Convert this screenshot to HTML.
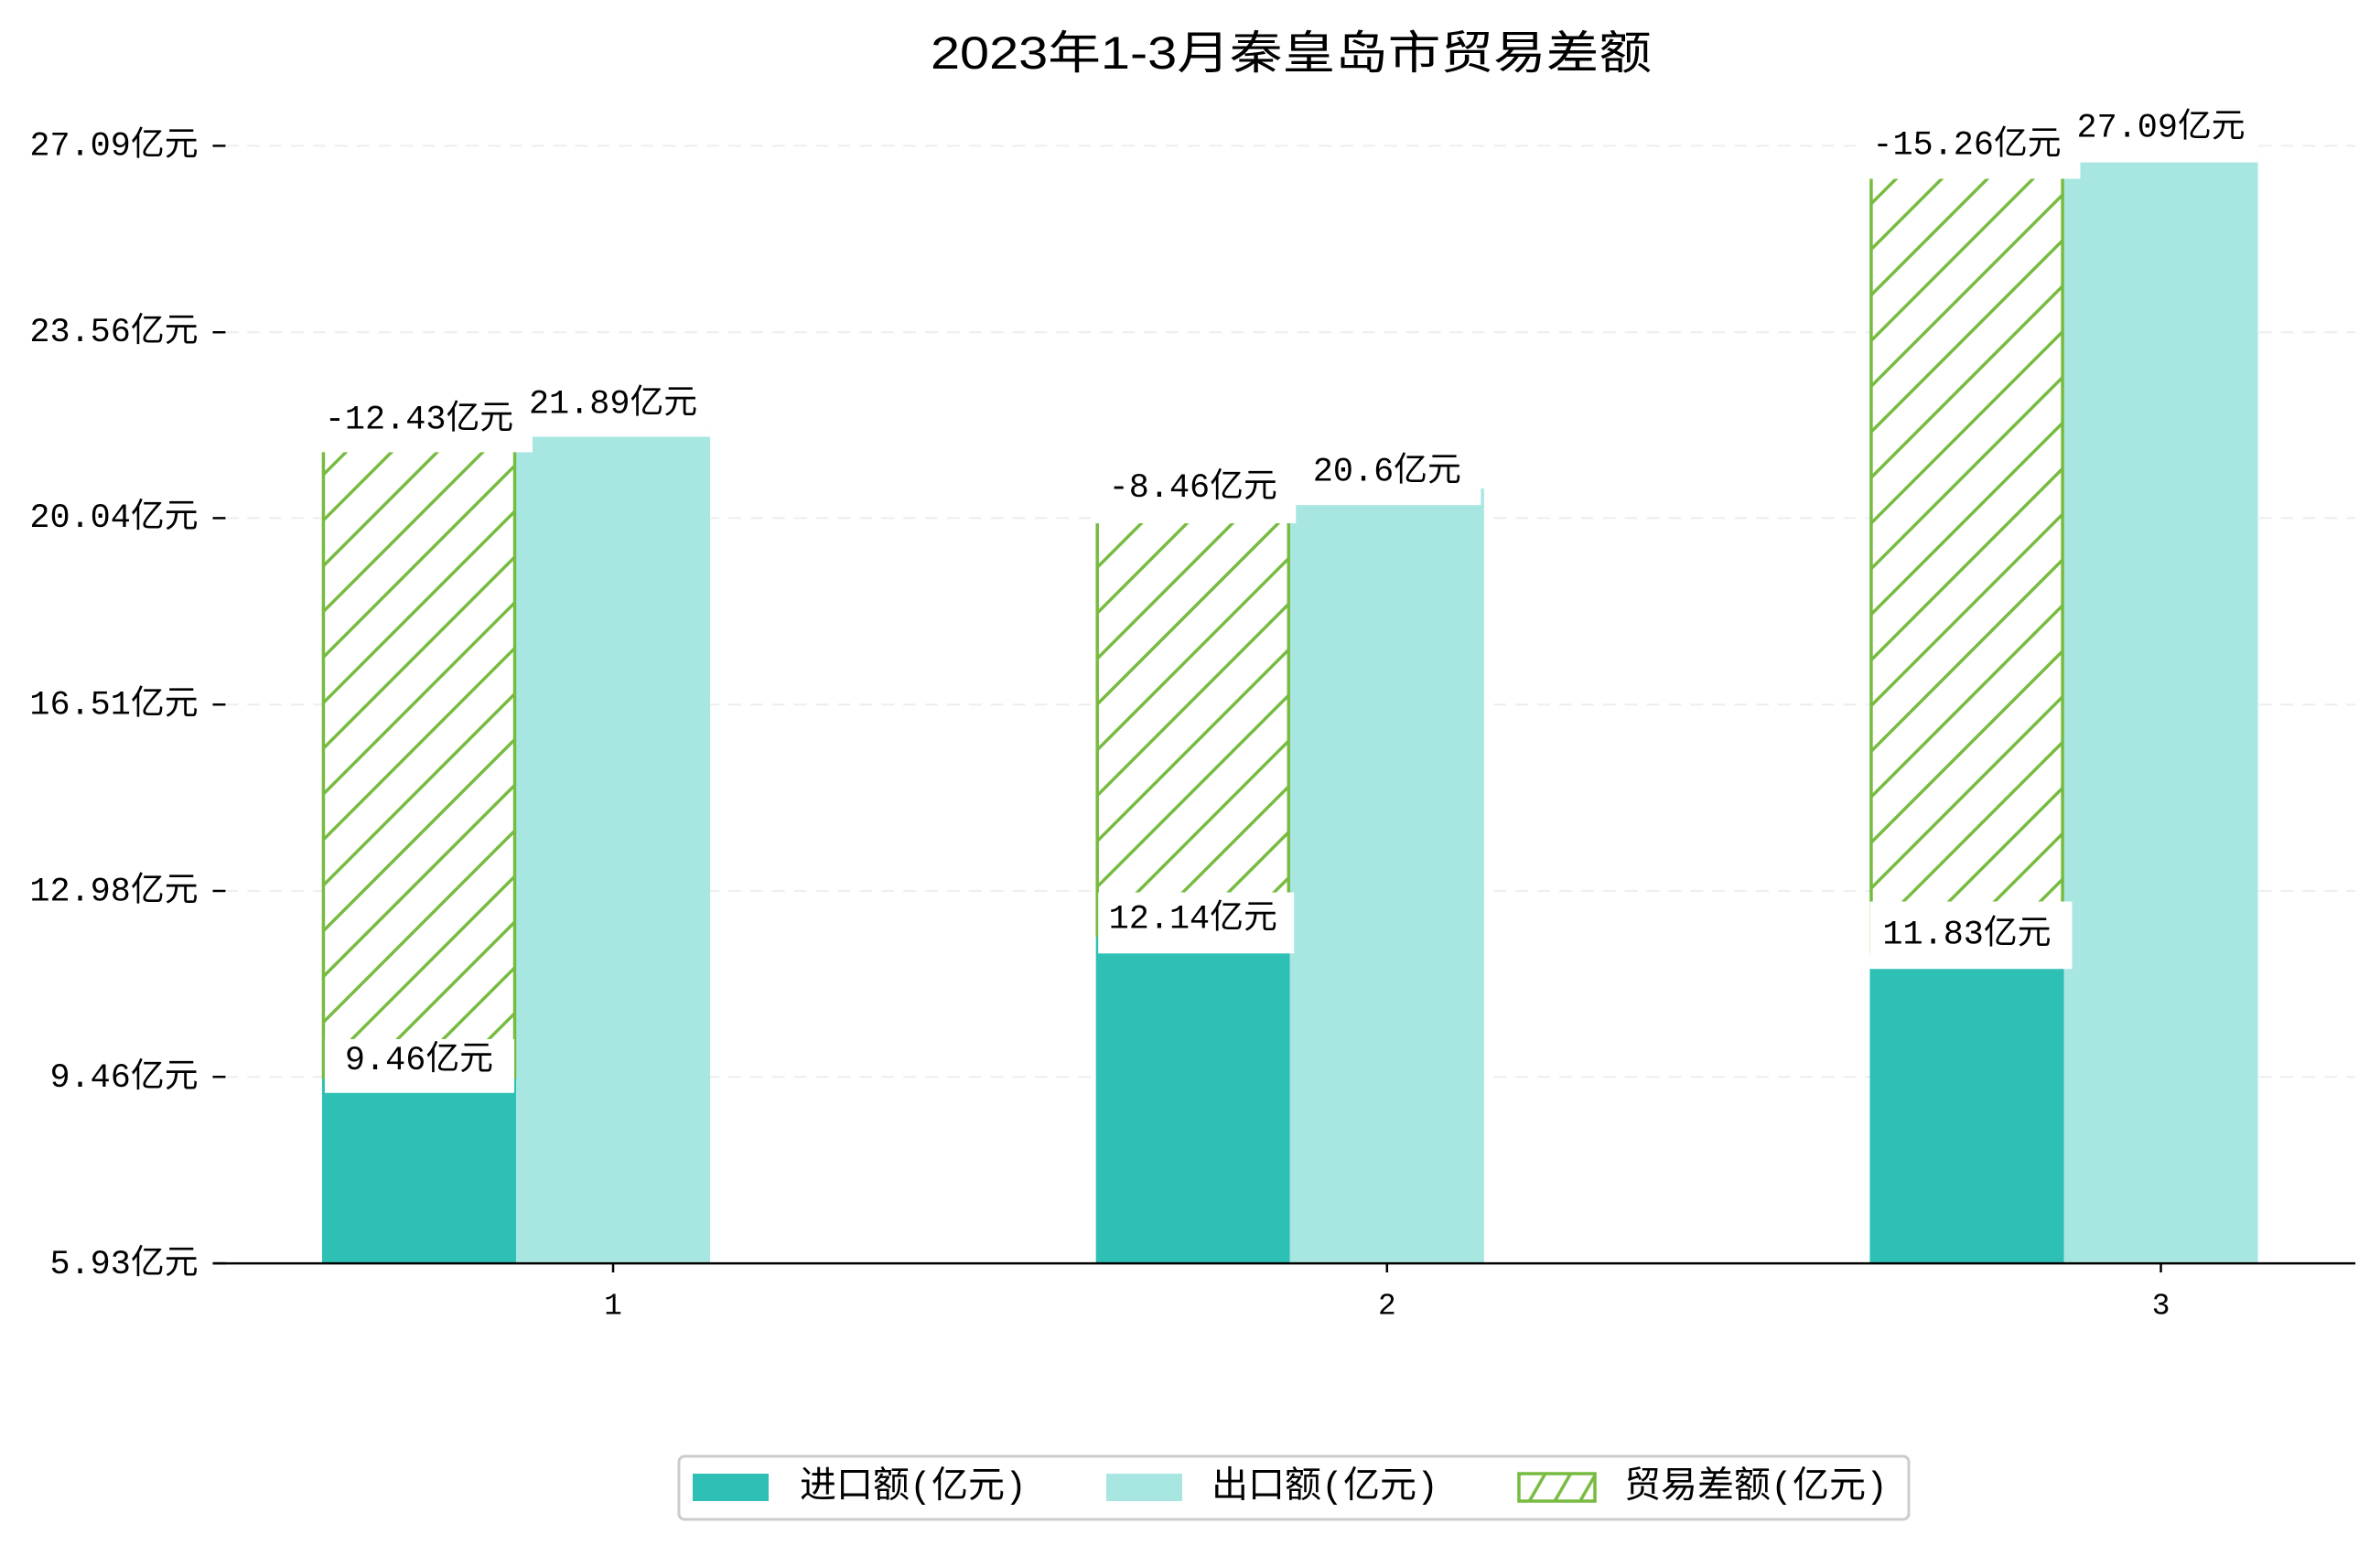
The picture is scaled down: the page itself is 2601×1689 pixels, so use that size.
<!DOCTYPE html>
<html><head><meta charset="utf-8"><style>
html,body{margin:0;padding:0;background:#fff;}
svg{display:block;}
text{font-family:"Liberation Mono","Noto Sans CJK SC",monospace;fill:#000;}
</style></head><body>
<svg width="2601" height="1689" viewBox="0 0 2601 1689" xmlns="http://www.w3.org/2000/svg">
<defs>
<pattern id="h" patternUnits="userSpaceOnUse" width="35.4" height="35.4" patternTransform="rotate(-45)">
<rect width="35.4" height="35.4" fill="#fff"/>
<line x1="0" y1="17.7" x2="35.4" y2="17.7" stroke="#77bb41" stroke-width="3.5"/>
</pattern>
<pattern id="hl" patternUnits="userSpaceOnUse" width="24" height="24" patternTransform="rotate(-60)">
<rect width="24" height="24" fill="#fff"/>
<line x1="0" y1="12" x2="24" y2="12" stroke="#77bb41" stroke-width="3.5"/>
</pattern>
</defs>
<text x="1411" y="58" font-size="50" text-anchor="middle" dominant-baseline="central" textLength="788" lengthAdjust="spacingAndGlyphs" style='font-family:"Liberation Sans","Noto Sans CJK SC",sans-serif'>2023年1-3月秦皇岛市贸易差额</text>
<g transform="translate(0.5,-0.8) scale(0.9956,0.9963)">
<g stroke="#eeeeee" stroke-width="2" stroke-dasharray="14,10">
<line x1="247" x2="2585" y1="160.8" y2="160.8"/>
<line x1="247" x2="2585" y1="365.4" y2="365.4"/>
<line x1="247" x2="2585" y1="569.3" y2="569.3"/>
<line x1="247" x2="2585" y1="773.9" y2="773.9"/>
<line x1="247" x2="2585" y1="978.4" y2="978.4"/>
<line x1="247" x2="2585" y1="1182.4" y2="1182.4"/>
</g>
<g stroke="#000" stroke-width="2.5">
<line x1="233" x2="247" y1="160.8" y2="160.8"/>
<line x1="233" x2="247" y1="365.4" y2="365.4"/>
<line x1="233" x2="247" y1="569.3" y2="569.3"/>
<line x1="233" x2="247" y1="773.9" y2="773.9"/>
<line x1="233" x2="247" y1="978.4" y2="978.4"/>
<line x1="233" x2="247" y1="1182.4" y2="1182.4"/>
<line x1="233" x2="247" y1="1387" y2="1387"/>
</g>
<g font-size="37" text-anchor="end" dominant-baseline="central">
<text x="217" y="162">27.09亿元</text>
<text x="217" y="366">23.56亿元</text>
<text x="217" y="570">20.04亿元</text>
<text x="217" y="775">16.51亿元</text>
<text x="217" y="980">12.98亿元</text>
<text x="217" y="1184">9.46亿元</text>
<text x="217" y="1389">5.93亿元</text>
</g>
<g>
<rect x="353" y="1182.4" width="213" height="204.6" fill="#2ec0b4"/>
<rect x="566" y="462.1" width="213" height="924.9" fill="#a8e6e1"/>
<rect x="1202.5" y="1027.1" width="213" height="359.9" fill="#2ec0b4"/>
<rect x="1415.5" y="536.9" width="213" height="850.1" fill="#a8e6e1"/>
<rect x="2052" y="1045.1" width="213" height="341.9" fill="#2ec0b4"/>
<rect x="2265" y="160.8" width="213" height="1226.2" fill="#a8e6e1"/>
<rect x="354.5" y="462.1" width="210" height="720.3" fill="url(#h)" stroke="#77bb41" stroke-width="3.5"/>
<rect x="1204" y="536.9" width="210" height="490.2" fill="url(#h)" stroke="#77bb41" stroke-width="3.5"/>
<rect x="2053.5" y="160.8" width="210" height="884.3" fill="url(#h)" stroke="#77bb41" stroke-width="3.5"/>
</g>
<line x1="233" x2="2585" y1="1387" y2="1387" stroke="#000" stroke-width="2.5"/>
<g stroke="#000" stroke-width="2.5">
<line x1="672.5" x2="672.5" y1="1387" y2="1397"/>
<line x1="1522" x2="1522" y1="1387" y2="1397"/>
<line x1="2371.5" x2="2371.5" y1="1387" y2="1397"/>
</g>
<g font-size="33" text-anchor="middle" dominant-baseline="central">
<text x="672.5" y="1434">1</text>
<text x="1522" y="1434">2</text>
<text x="2371.5" y="1434">3</text>
</g>
<g fill="#fff">
<rect x="356" y="1141" width="208" height="59"/>
<rect x="566" y="420" width="213" height="60"/>
<rect x="342" y="437" width="242" height="60"/>
<rect x="1205" y="980" width="215" height="67"/>
<rect x="1415" y="495" width="210" height="60"/>
<rect x="1200" y="512" width="222" height="63"/>
<rect x="2052" y="990" width="222" height="74"/>
<rect x="2265" y="119" width="213" height="60"/>
<rect x="2045" y="137" width="238" height="60"/>
</g>
<g font-size="37" text-anchor="middle" dominant-baseline="central">
<text x="459.5" y="1165">9.46亿元</text>
<text x="672.5" y="445">21.89亿元</text>
<text x="459.5" y="462">-12.43亿元</text>
<text x="1309" y="1010">12.14亿元</text>
<text x="1522" y="519">20.6亿元</text>
<text x="1309" y="537">-8.46亿元</text>
<text x="2158.5" y="1027">11.83亿元</text>
<text x="2371.5" y="142">27.09亿元</text>
<text x="2158.5" y="161">-15.26亿元</text>
</g>
</g>
<rect x="742" y="1592" width="1344" height="69" rx="6" fill="#fff" stroke="#cccccc" stroke-width="3"/>
<rect x="757" y="1611" width="83" height="30" fill="#2ec0b4"/>
<rect x="1209" y="1611" width="83" height="30" fill="#a8e6e1"/>
<rect x="1660" y="1611" width="83" height="30" fill="url(#hl)" stroke="#77bb41" stroke-width="3.5"/>
<g font-size="40" dominant-baseline="central" style='font-family:"Liberation Sans","Noto Sans CJK SC",sans-serif'>
<text x="874" y="1627">进口额(亿元)</text>
<text x="1324" y="1627">出口额(亿元)</text>
<text x="1775" y="1627">贸易差额(亿元)</text>
</g>
</svg>
</body></html>
